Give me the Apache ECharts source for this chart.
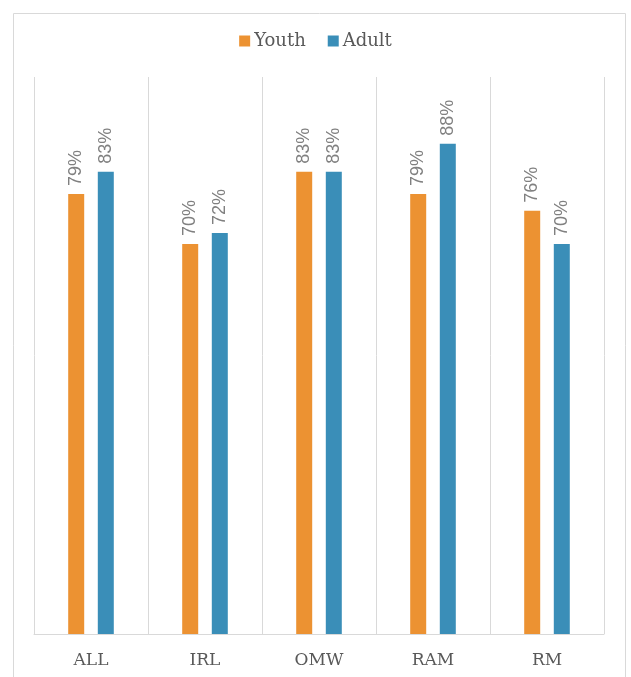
<!DOCTYPE html>
<html><head><meta charset="utf-8">
<script src="https://cdn.jsdelivr.net/npm/echarts@6/dist/echarts.min.js"></script>
<style>html,body{margin:0;padding:0;background:#fff}#c{width:631px;height:677px}</style>
</head><body><div id="c"></div>
<script>
const categories = ['ALL', 'IRL', 'OMW', 'RAM', 'RM'];
const youth = [79, 70, 83, 79, 76];
const adult = [83, 72, 83, 88, 70];
const seriesNames = ['Youth', 'Adult'];

const chart = echarts.init(document.getElementById('c'), null, {renderer: 'canvas'});
const lbl = {
  show: true, position: 'top', rotate: 90, align: 'left', verticalAlign: 'middle',
  distance: 8, color: '#808080', fontSize: 18, fontFamily: 'Liberation Sans',
  formatter: p => p.value + '%'
};
chart.setOption({
  animation: false,
  graphic: [{type: 'rect', shape: {x: 13.5, y: 13.5, width: 612, height: 700}, style: {fill: 'none', stroke: '#d9d9d9', lineWidth: 1}, silent: true}],
  legend: {
    top: 27, left: 'center', itemWidth: 11, itemHeight: 11, itemGap: 22,
    textStyle: {fontFamily: 'DejaVu Serif', fontSize: 18, color: '#595959', padding: [0, 0, 0, -1]},
    data: seriesNames.map(n => ({name: n, icon: 'rect'}))
  },
  grid: {left: 34, right: 27, top: 77, bottom: 43, containLabel: false},
  xAxis: {
    type: 'category', data: categories,
    axisLine: {lineStyle: {color: '#d9d9d9', width: 1}},
    axisTick: {show: false},
    splitLine: {show: true, lineStyle: {color: '#d9d9d9', width: 1}},
    axisLabel: {color: '#595959', fontFamily: 'DejaVu Serif', fontSize: 17, margin: 18}
  },
  yAxis: {type: 'value', min: 0, max: 100, show: false, splitLine: {show: false}},
  series: [
    {name: seriesNames[0], type: 'bar', data: youth, barWidth: 16, barGap: '85%', itemStyle: {color: '#EC9232'}, label: lbl},
    {name: seriesNames[1], type: 'bar', data: adult, barWidth: 16, barGap: '85%', itemStyle: {color: '#3A8EB8'}, label: lbl}
  ]
});
</script></body></html>
